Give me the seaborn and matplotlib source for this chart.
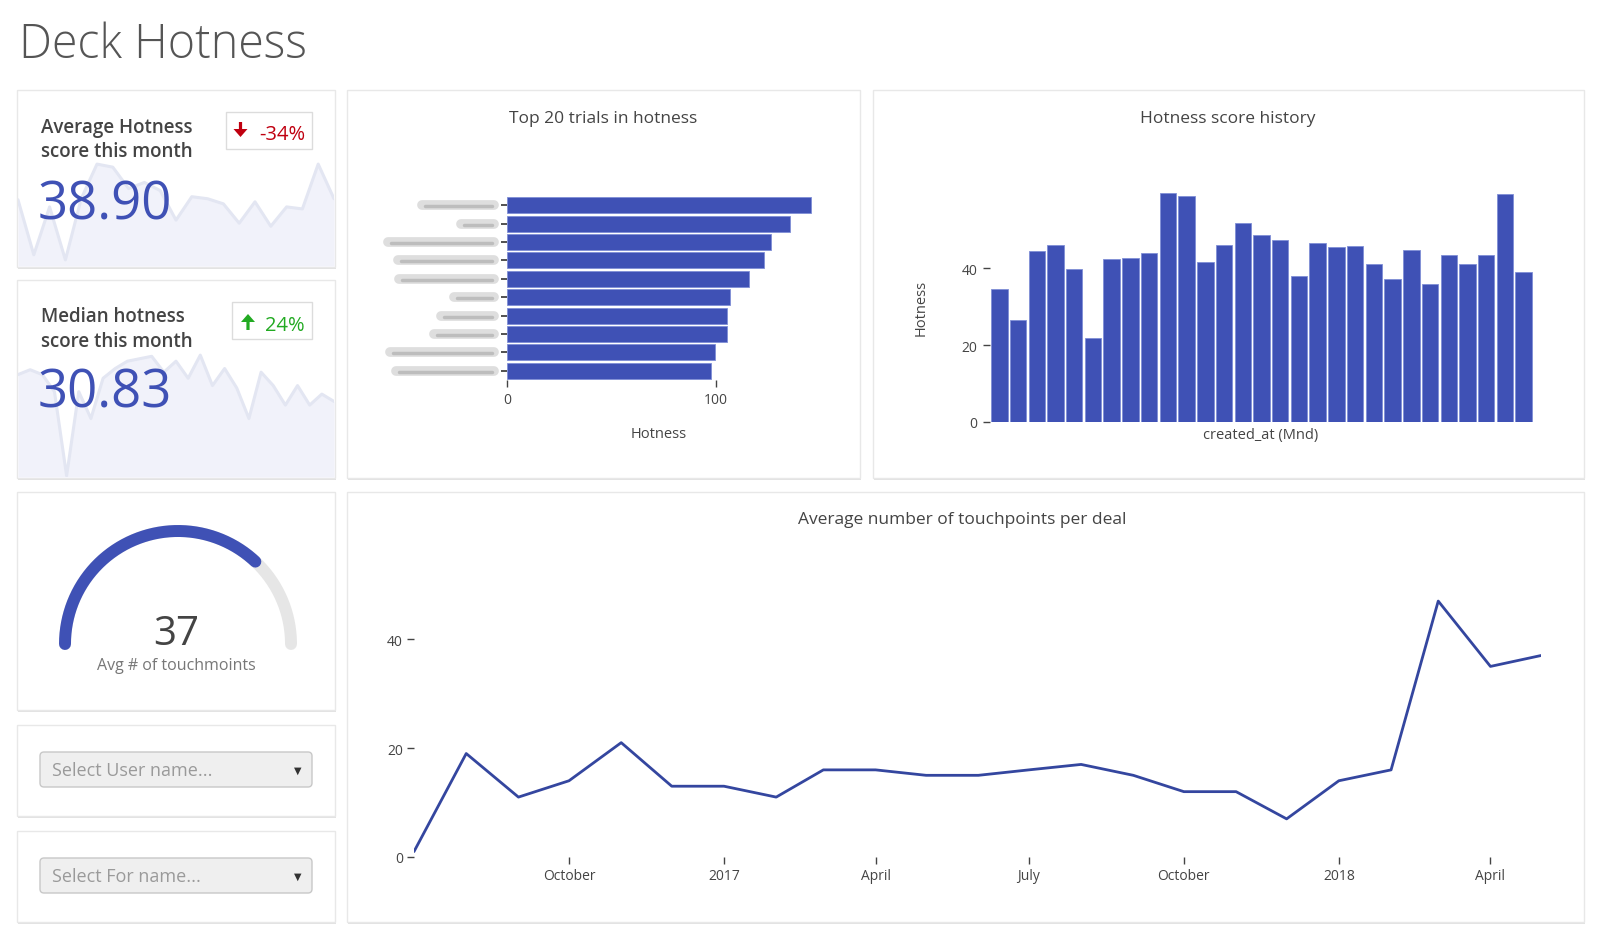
import numpy as np
import pandas as pd
import matplotlib
matplotlib.use('Agg')
import matplotlib.pyplot as plt
import seaborn as sns
from matplotlib.patches import Rectangle, FancyBboxPatch, FancyArrow
from matplotlib.transforms import blended_transform_factory

sns.set_theme(style='white')
plt.rcParams['font.family'] = ['Open Sans', 'DejaVu Sans']

W, H = 1600, 945
BLUE = '#3f51b5'
LINE = '#34469f'
TXT = '#444444'

# --- data ---
avg_hotness = '38.90'
avg_change = '-34%'
median_hotness = '30.83'
median_change = '24%'
avg_spark = [65, 11, 58, 6, 66, 100, 97, 76, 82, 74, 45, 68, 66, 61, 42, 63, 39, 58, 56, 100, 66]
median_spark = [84, 88, 84, 70, 1, 70, 48, 81, 89, 95, 97, 99, 86, 95, 81, 100, 75, 89, 73, 48,
                86, 75, 59, 75, 59, 68, 62]

top_trials = ['Trial 01', 'Trial 02', 'Trial 03', 'Trial 04', 'Trial 05',
              'Trial 06', 'Trial 07', 'Trial 08', 'Trial 09', 'Trial 10']
top_hotness = [145.5, 135.5, 126.0, 123.0, 115.5, 106.7, 105.3, 105.1, 99.4, 97.4]
# left end of the redacted trial names (px)
redacted_left = [422, 461, 388, 398, 399, 454, 441, 434, 390, 396]

history_idx = list(range(29))
history_values = [34.5, 26.5, 44.3, 46.0, 39.7, 21.8, 42.4, 42.7, 44.0, 59.5, 58.6, 41.6, 45.9,
                  51.7, 48.5, 47.4, 37.9, 46.5, 45.5, 45.6, 41.0, 37.1, 44.8, 35.9, 43.3, 41.0,
                  43.5, 59.3, 38.9]

touch_months = ['2016-07-01', '2016-08-01', '2016-09-01', '2016-10-01', '2016-11-01', '2016-12-01',
                '2017-01-01', '2017-02-01', '2017-03-01', '2017-04-01', '2017-05-01', '2017-06-01',
                '2017-07-01', '2017-08-01', '2017-09-01', '2017-10-01', '2017-11-01', '2017-12-01',
                '2018-01-01', '2018-02-01', '2018-03-01', '2018-04-01', '2018-05-01']
touch_values = [1, 19, 11, 14, 21, 13, 13, 11, 16, 16, 15, 15, 16, 17, 15, 12, 12, 7, 14, 16, 47, 35, 37]
touch_ticks = ['2016-10-01', '2017-01-01', '2017-04-01', '2017-07-01', '2017-10-01', '2018-01-01', '2018-04-01']
touch_ticklabels = ['October', '2017', 'April', 'July', 'October', '2018', 'April']

gauge_value = 37
gauge_max = 50

fig = plt.figure(figsize=(16, 9.45), dpi=100)
fig.patch.set_facecolor('white')


def add_ax(x0, y0, x1, y1, **kw):
    return fig.add_axes([x0 / W, 1 - y1 / H, (x1 - x0) / W, (y1 - y0) / H], **kw)


def T(x, y, s, **kw):
    return fig.text(x / W, 1 - y / H, s, **kw)


# background layer in pixel coords
bg = add_ax(0, 0, W, H, zorder=-10)
bg.set_xlim(0, W)
bg.set_ylim(H, 0)
bg.axis('off')


def card(x0, y0, x1, y1):
    bg.add_patch(Rectangle((x0 + 0.5, y0 + 2), x1 - x0, y1 - y0, fc='#e2e2e2', ec='none', zorder=1))
    bg.add_patch(Rectangle((x0, y0), x1 - x0, y1 - y0, fc='white', ec='#e8e8e8', lw=1, zorder=2))


card(17, 91, 335, 268)
card(17, 281, 335, 479)
card(347, 91, 860, 479)
card(873, 91, 1584, 479)
card(17, 493, 335, 711)
card(17, 726, 335, 817)
card(17, 832, 335, 923)
card(347, 493, 1584, 923)

T(19, 58, 'Deck Hotness', fontsize=33.5, fontweight='light', color='#555555', va='baseline')

# --- KPI cards ---
for pos, vals in [((18, 160, 334, 267), avg_spark), ((18, 350, 334, 478), median_spark)]:
    sp = add_ax(*pos)
    sp.set_facecolor('none')
    xs = np.arange(len(vals))
    sp.fill_between(xs, vals, color='#f1f2fa', lw=0)
    sp.plot(xs, vals, color='#e3e6f2', lw=2.2)
    sp.set_xlim(0, len(vals) - 1)
    sp.set_ylim(0, 105)
    sp.axis('off')

T(41, 133, 'Average Hotness', fontsize=13.5, fontweight='semibold', color=TXT, va='baseline')
T(41, 157, 'score this month', fontsize=13.5, fontweight='semibold', color=TXT, va='baseline')
T(38, 219, avg_hotness, fontsize=38, color=BLUE, va='baseline')
bg.add_patch(Rectangle((226, 113), 86, 37, fc='white', ec='#dcdcdc', lw=1, zorder=3))
bg.add_patch(FancyArrow(240.5, 123, 0, 15, width=3.2, head_width=14, head_length=8,
                        length_includes_head=True, color='#c00010', lw=0, zorder=4))
T(305, 140, avg_change, fontsize=14.5, fontweight='medium', color='#c00010', va='baseline', ha='right')

T(41, 322, 'Median hotness', fontsize=13.5, fontweight='semibold', color=TXT, va='baseline')
T(41, 347, 'score this month', fontsize=13.5, fontweight='semibold', color=TXT, va='baseline')
T(38, 408, median_hotness, fontsize=38, color=BLUE, va='baseline')
bg.add_patch(Rectangle((232, 303), 80, 37, fc='white', ec='#dcdcdc', lw=1, zorder=3))
bg.add_patch(FancyArrow(248, 331, 0, -16, width=3.2, head_width=14, head_length=8,
                        length_includes_head=True, color='#22aa22', lw=0, zorder=4))
T(305, 331, median_change, fontsize=14.5, fontweight='medium', color='#22aa22', va='baseline', ha='right')

# --- Top 20 trials ---
ax1 = add_ax(507, 197, 827, 381)
ax1.set_facecolor('none')
sns.barplot(x=top_hotness, y=top_trials, orient='h', color=BLUE, saturation=1, width=0.86,
            edgecolor='#7f8fd6', linewidth=0.6, ax=ax1)
ax1.set_xlim(0, 153)
ax1.set_ylim(len(top_trials) - 0.5, -0.5)
ax1.set_xticks([0, 100])
ax1.tick_params(axis='x', bottom=True, length=5, width=1, color=TXT, labelsize=10, labelcolor=TXT, pad=4)
ax1.tick_params(axis='y', left=True, length=4, width=1.2, color='#333333', labelleft=False, pad=2)
sns.despine(ax=ax1, left=True, bottom=True)
ax1.set_xlabel('Hotness', fontsize=10.5, color=TXT)
ax1.xaxis.set_label_coords(0.475, -0.293)
ax1.xaxis.label.set_va('center')
ax1.set_ylabel('')
tr = blended_transform_factory(bg.transData, ax1.transData)
for i, left in enumerate(redacted_left):
    ax1.plot([left, 494], [i, i], transform=tr, clip_on=False, color='#dedede', lw=7,
             solid_capstyle='round', zorder=1)
    ax1.plot([left + 3, 492], [i + 0.05, i + 0.05], transform=tr, clip_on=False, color='#bdbdbd',
             lw=2.5, solid_capstyle='round', zorder=1)
T(603, 119, 'Top 20 trials in hotness', fontsize=12.5, color=TXT, ha='center', va='center')

# --- Hotness score history ---
ax2 = add_ax(990, 182, 1533, 423)
ax2.set_facecolor('none')
sns.barplot(x=history_idx, y=history_values, color=BLUE, saturation=1, width=0.88,
            edgecolor='#7f8fd6', linewidth=0.6, ax=ax2)
ax2.set_xlim(-0.5, len(history_idx) - 0.5)
ax2.set_ylim(0, 62.6)
ax2.set_yticks([0, 20, 40])
ax2.set_xticks([])
ax2.tick_params(axis='y', left=True, length=5, width=1, color=TXT, labelsize=10, labelcolor=TXT, pad=4)
sns.despine(ax=ax2, left=True, bottom=True)
ax2.set_xlabel('created_at (Mnd)', fontsize=10.5, color=TXT)
ax2.xaxis.set_label_coords(0.499, -0.05)
ax2.xaxis.label.set_va('center')
ax2.set_ylabel('Hotness', fontsize=10.5, color=TXT)
ax2.yaxis.set_label_coords(-0.127, 0.477)
ax2.yaxis.label.set_va('center')
T(1228, 119, 'Hotness score history', fontsize=12.5, color=TXT, ha='center', va='center')

# --- gauge ---
axg = add_ax(178 - 1.1 * 113, 645 - 1.1 * 113, 178 + 1.1 * 113, 645 + 0.1 * 113)
axg.set_facecolor('none')
theta_all = np.linspace(np.pi, 0, 200)
theta_val = np.linspace(np.pi, np.pi - np.pi * gauge_value / gauge_max, 200)
axg.plot(np.cos(theta_all), np.sin(theta_all), color='#e6e6e6', lw=8.6, solid_capstyle='round')
axg.plot(np.cos(theta_val), np.sin(theta_val), color=BLUE, lw=8.6, solid_capstyle='round')
axg.set_xlim(-1.1, 1.1)
axg.set_ylim(-0.1, 1.1)
axg.axis('off')
T(176, 645, str(gauge_value), fontsize=29, color=TXT, ha='center', va='baseline')
T(176, 670, 'Avg # of touchmoints', fontsize=11.5, color='#777777', ha='center', va='baseline')

# --- dropdowns ---
for y0, label in [(753, 'Select User name...'), (859, 'Select For name...')]:
    bg.add_patch(FancyBboxPatch((40, y0), 272, 35, boxstyle='round,pad=0,rounding_size=4',
                                fc='#efefef', ec='#c8c8c8', lw=1, zorder=3))
    T(52, y0 + 23, label, fontsize=13, color='#9a9a9a', va='baseline')
    T(298, y0 + 18, '▼', fontsize=7, color='#333333', ha='center', va='center', family='DejaVu Sans')

# --- touchpoints line ---
ax3 = add_ax(414, 589, 1541, 858)
ax3.set_facecolor('none')
sns.lineplot(x=pd.to_datetime(touch_months), y=touch_values, color=LINE, lw=2, ax=ax3)
ax3.set_xlim(pd.Timestamp(touch_months[0]), pd.Timestamp(touch_months[-1]))
ax3.set_ylim(0, 49.4)
ax3.set_yticks([0, 20, 40])
ax3.set_xticks(pd.to_datetime(touch_ticks))
ax3.set_xticklabels(touch_ticklabels)
ax3.tick_params(axis='both', length=5, width=1, color=TXT, labelsize=10, labelcolor=TXT, pad=3,
                left=True, bottom=True)
ax3.set_xlabel('')
ax3.set_ylabel('')
sns.despine(ax=ax3, left=True, bottom=True)
T(962, 520, 'Average number of touchpoints per deal', fontsize=12.5, color=TXT, ha='center', va='center')

fig.savefig('out.png', dpi=100, facecolor='white')
